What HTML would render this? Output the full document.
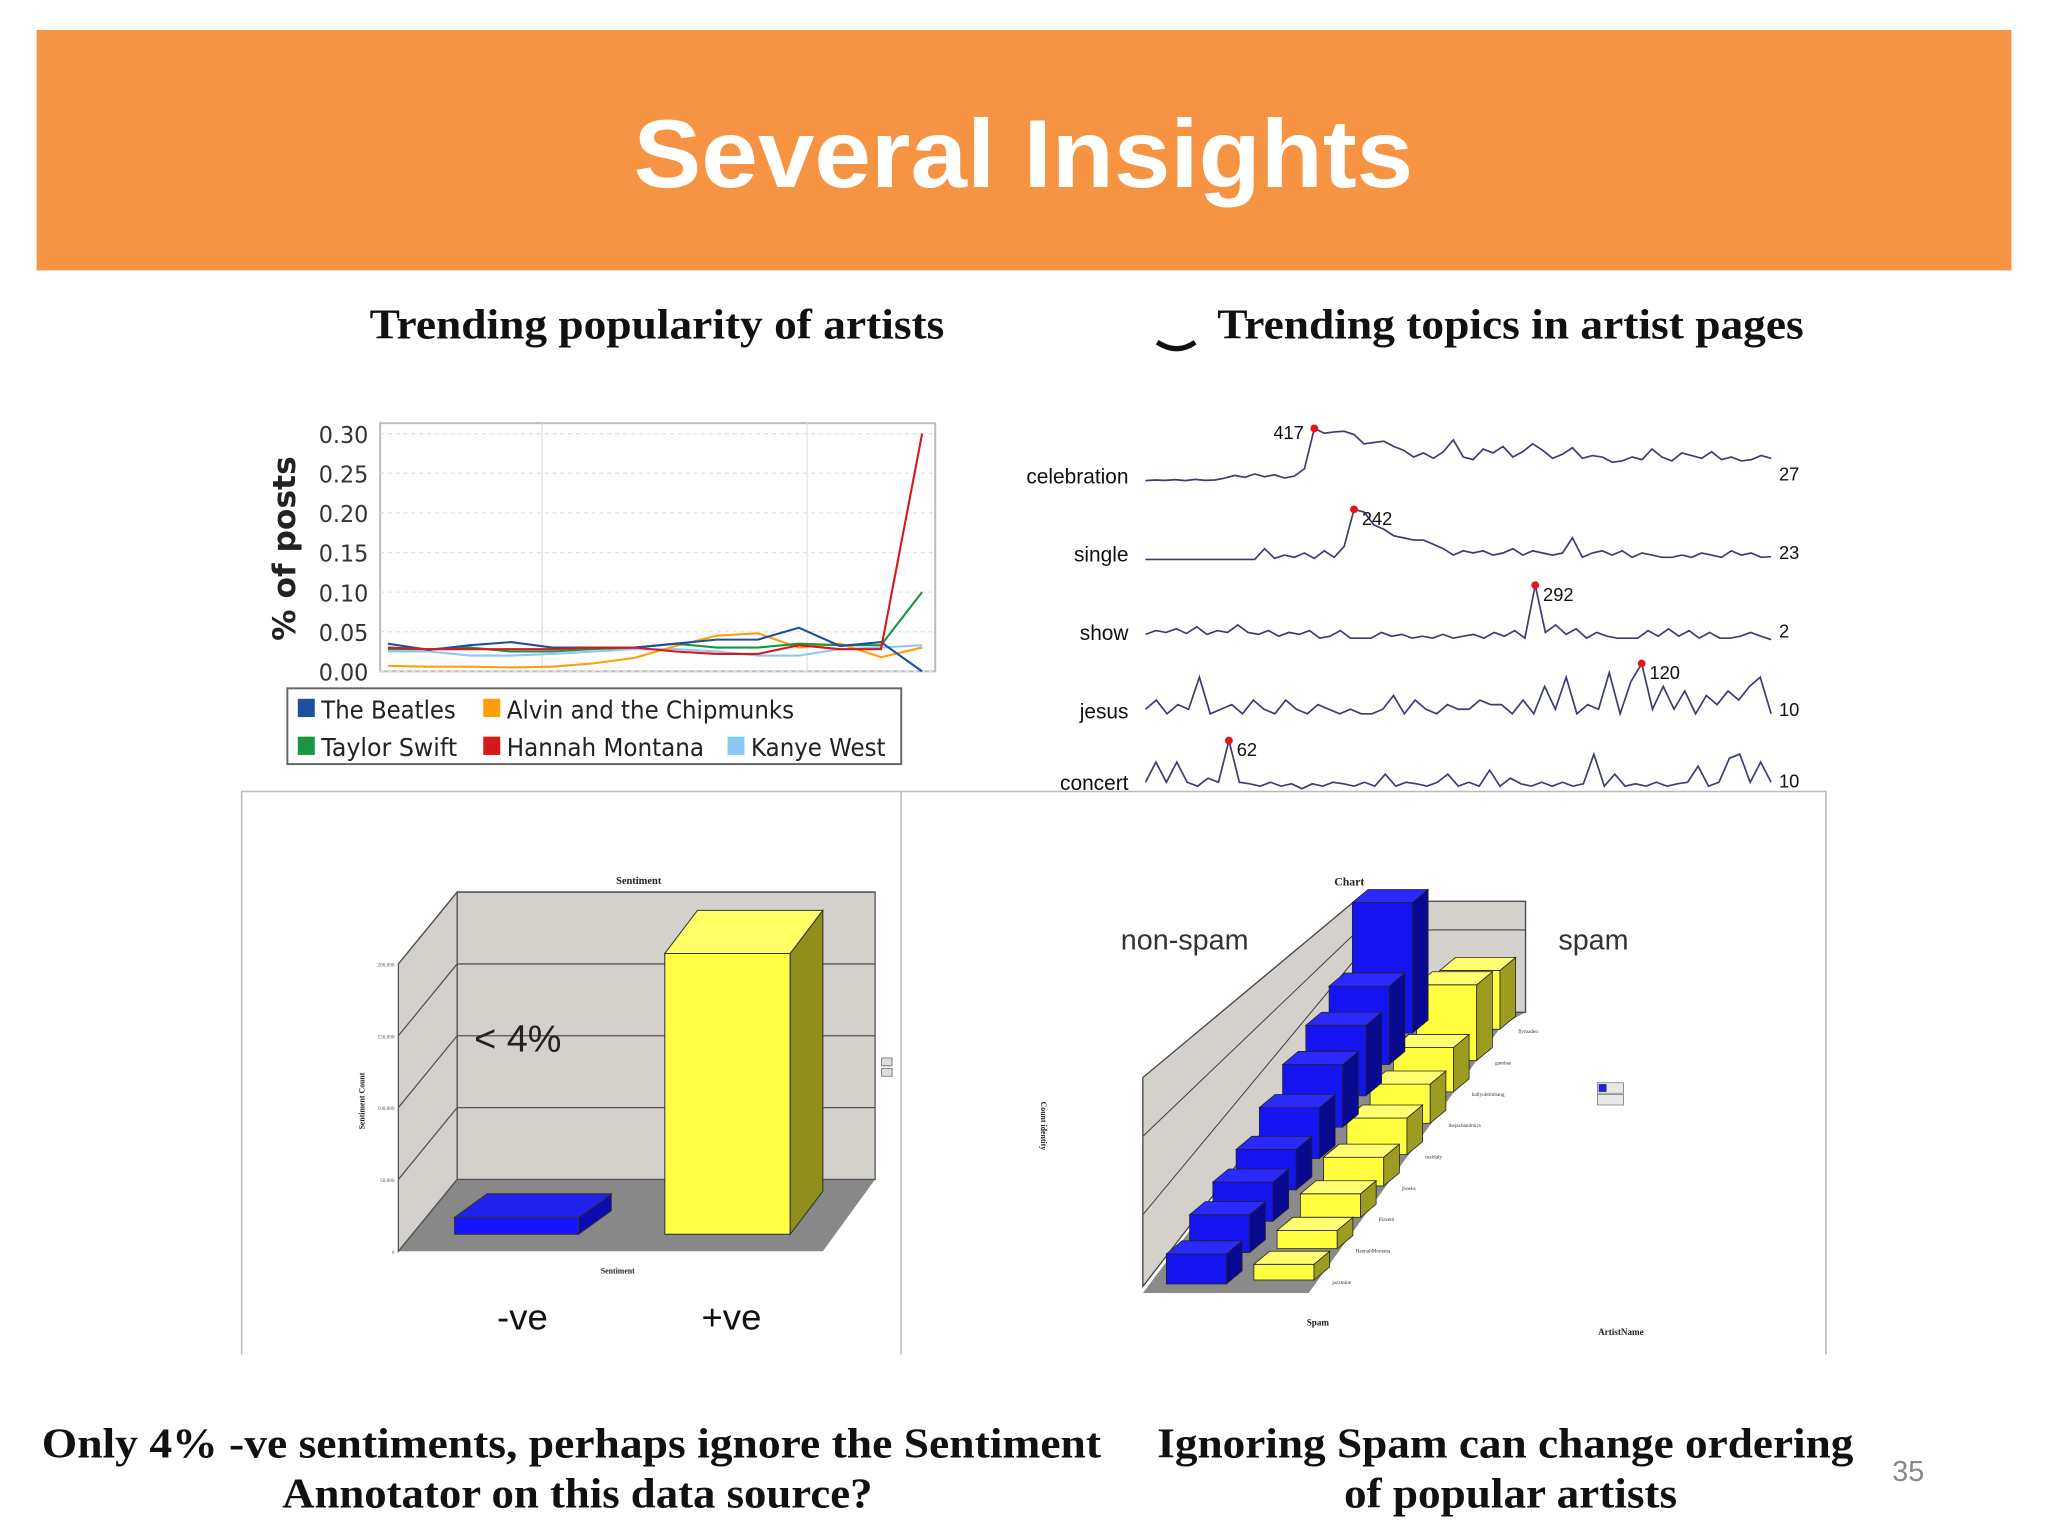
<!DOCTYPE html>
<html><head><meta charset="utf-8"><style>
html,body{margin:0;padding:0;background:#fff}
svg{display:block}
.serif{font-family:"Liberation Serif",serif;font-weight:bold}
.sans{font-family:"Liberation Sans",sans-serif}
</style></head><body>
<svg id="root" width="2048" height="1536" viewBox="0 0 1568 1176" xmlns="http://www.w3.org/2000/svg">
<rect x="0" y="0" width="1568" height="1176" fill="#fff"/>
<rect x="28" y="23" width="1512" height="184" fill="#f79444"/>
<text x="485" y="143" textLength="597" lengthAdjust="spacingAndGlyphs" class="sans" font-weight="bold" font-size="74" fill="#fff">Several Insights</text>
<text x="283" y="259" textLength="440" lengthAdjust="spacingAndGlyphs" class="serif" font-size="32" fill="#111">Trending popularity of artists</text>
<text x="932" y="259" textLength="449" lengthAdjust="spacingAndGlyphs" class="serif" font-size="32" fill="#111">Trending topics in artist pages</text>
<path d="M886 262 Q901 272 915 262" stroke="#111" stroke-width="4" fill="none"/>

<g id="linechart"></g>
<g id="spark"></g>

<g>
<path d="M185 1037 V606 H1398 V1037 M690 606 V1037" stroke="#bbb" stroke-width="1.2" fill="none"/>
</g>
<g id="senti"></g>
<g id="spam"></g>

<text x="32" y="1116" textLength="811" lengthAdjust="spacingAndGlyphs" class="serif" font-size="32" fill="#111">Only 4% -ve sentiments, perhaps ignore the Sentiment</text>
<text x="216" y="1154" textLength="452" lengthAdjust="spacingAndGlyphs" class="serif" font-size="32" fill="#111">Annotator on this data source?</text>
<text x="886" y="1116" textLength="533" lengthAdjust="spacingAndGlyphs" class="serif" font-size="32" fill="#111">Ignoring Spam can change ordering</text>
<text x="1029" y="1154" textLength="255" lengthAdjust="spacingAndGlyphs" class="serif" font-size="32" fill="#111">of popular artists</text>
<text x="1461" y="1134" text-anchor="middle" class="sans" font-size="22" fill="#888">35</text>
</svg>
<script>
var NS="http://www.w3.org/2000/svg";
// ---- line chart data ----
var lcTicks=[0,0.05,0.10,0.15,0.20,0.25,0.30];
var lcTickLabels=["0.00","0.05","0.10","0.15","0.20","0.25","0.30"];
var seriesNames=["The Beatles","Alvin and the Chipmunks","Taylor Swift","Hannah Montana","Kanye West"];
var beatles=[0.035,0.027,0.033,0.037,0.030,0.030,0.030,0.035,0.040,0.040,0.055,0.032,0.037,0.000];
var alvin=[0.007,0.006,0.006,0.005,0.006,0.010,0.017,0.032,0.045,0.048,0.030,0.035,0.018,0.030];
var taylor=[0.028,0.028,0.030,0.025,0.025,0.028,0.030,0.035,0.030,0.030,0.035,0.033,0.033,0.100];
var hannah=[0.030,0.028,0.028,0.028,0.028,0.030,0.030,0.025,0.022,0.022,0.033,0.028,0.028,0.300];
var kanye=[0.025,0.025,0.020,0.020,0.022,0.025,0.028,0.028,0.025,0.020,0.020,0.028,0.030,0.033];
// ---- sparkline data ----
var topics=["celebration","single","show","jesus","concert"];
var peaks=[417,242,292,120,62];
var lastVals=[27,23,2,10,10];
var celebration=[20,25,22,28,20,30,22,25,40,60,45,70,50,65,40,55,110,417,380,390,395,370,300,310,320,280,250,200,230,190,240,330,200,180,260,230,280,200,240,300,250,190,220,270,190,210,200,160,170,200,180,260,200,170,230,210,190,240,180,200,170,180,210,190];
var single=[10,10,10,10,10,10,10,10,10,10,10,10,60,15,30,20,40,15,50,20,70,242,230,170,150,120,110,100,100,80,60,30,50,40,50,30,40,60,30,50,40,30,40,110,20,40,50,30,50,20,40,30,20,20,30,20,40,30,20,50,30,40,20,23];
var show=[30,50,40,60,35,70,30,50,40,80,40,30,50,20,40,30,50,10,20,50,10,10,10,40,20,30,10,20,10,30,10,20,30,10,40,20,50,10,292,40,80,30,60,10,40,20,10,10,10,50,20,60,20,50,10,40,10,10,20,40,20,2];
var jesus=[20,40,10,30,20,90,10,20,30,10,40,20,10,40,20,10,30,20,10,20,10,10,20,50,10,40,20,10,30,20,20,40,30,30,10,40,10,70,20,90,10,30,20,100,10,80,120,20,70,20,60,10,50,30,60,40,70,90,10];
var concert=[10,35,10,35,10,5,15,10,62,10,8,5,10,5,8,2,8,5,10,8,5,10,5,20,5,10,8,5,10,20,5,10,5,25,5,15,8,5,10,5,10,5,8,45,5,20,5,8,5,10,5,8,10,30,5,10,40,45,10,35,10];
var topicSeries=[celebration,single,show,jesus,concert];
// ---- sentiment data ----
var sentCats=["-ve","+ve"];
var sentVals=[6500,172000];
var sentTicks=[0,50000,100000,150000,200000];
// ---- spam data ----
var spamArtists=["jazzmine","HannahMontana","Pizzetti","jboebs","realdaly","thejazbandmics","hallyubtimbang","gambas","flymadeo"];
var nonSpamVals=[23,29,30,31,39,48,54,60,100];
var spamVals=[12,14,18,22,28,30,34,58,45];

function el(tag,attrs,parent){var e=document.createElementNS(NS,tag);for(var k in attrs)e.setAttribute(k,attrs[k]);parent.appendChild(e);return e;}

// ===== line chart =====
(function(){
var g=document.getElementById('linechart');
var X0=291,X1=716,Y0=514,Y1=324;
function y(v){return 514-v/0.30*182;}
function x(i){return 297+i*(706-297)/(beatles.length-1);}
var bg=el('rect',{x:X0,y:Y1,width:X1-X0,height:Y0-Y1,fill:'#fff',stroke:'#bbb','stroke-width':1.5},g);


[415,618].forEach(function(vx){var l=el('line',{x1:vx,x2:vx,y1:Y1,y2:Y0,stroke:'#e4e4e4','stroke-width':1},g);

});
lcTicks.forEach(function(t,i){
 var gl=el('line',{x1:X0,x2:X1,y1:y(t),y2:y(t),stroke:'#e0e0e0','stroke-dasharray':'3,3'},g);
 
 
 var tx=el('text',{x:282,y:y(t)+7,'text-anchor':'end','font-size':18,fill:'#333','font-family':'DejaVu Sans,sans-serif',textLength:38,lengthAdjust:'spacingAndGlyphs'},g);
 tx.textContent=lcTickLabels[i];
 
 
});
var yl=el('text',{x:0,y:0,transform:'translate(226,420) rotate(-90)','text-anchor':'middle','font-size':24,'font-weight':'bold',fill:'#222','font-family':'DejaVu Sans,sans-serif'},g);
yl.textContent='% of posts';


var data=[kanye,alvin,taylor,beatles,hannah];
var cols=['#8cc8f5','#ff9d0a','#1a9641','#1f4fa0','#d7191c'];
var names=['series-kanye-west','series-alvin','series-taylor-swift','series-the-beatles','series-hannah-montana'];
data.forEach(function(d,si){
 var p=d.map(function(v,i){return (i?'L':'M')+x(i).toFixed(1)+' '+y(v).toFixed(1);}).join(' ');
 var pa=el('path',{d:p,fill:'none',stroke:cols[si],'stroke-width':1.6},g);
 
 
});
var lg=el('rect',{x:220,y:527,width:470,height:58,fill:'#fff',stroke:'#666','stroke-width':1.5},g);


var lcols=['#1f4fa0','#ff9d0a','#1a9641','#d7191c','#8cc8f5'];
var lpos=[[228,550],[370,550],[228,579],[370,579],[557,579]];
var lw=[103,220,104,151,103];
seriesNames.forEach(function(n,i){
 var s=el('rect',{x:lpos[i][0],y:lpos[i][1]-15,width:13,height:14,fill:lcols[i]},g);
 
 
 var t=el('text',{x:lpos[i][0]+18,y:lpos[i][1],'font-size':19,fill:'#222','font-family':'DejaVu Sans,sans-serif',textLength:lw[i],lengthAdjust:'spacingAndGlyphs'},g);
 t.textContent=n;
 
 
});
})();

// ===== sparklines =====
(function(){
var g=document.getElementById('spark');
var base=[370,430,490,550,605];
var H=[42,40,42,42,38];
topicSeries.forEach(function(d,r){
 var mx=Math.max.apply(null,d);
 var X0=877,X1=1356;
 function x(i){return X0+i*(X1-X0)/(d.length-1);}
 function y(v){return base[r]-v/mx*H[r];}
 var lb=el('text',{x:864,y:base[r],'text-anchor':'end','font-size':16,fill:'#111','font-family':'Liberation Sans,sans-serif'},g);
 lb.textContent=topics[r];
 
 
 var p=d.map(function(v,i){return (i?'L':'M')+x(i).toFixed(1)+' '+y(v).toFixed(1);}).join(' ');
 var pa=el('path',{d:p,fill:'none',stroke:'#3b3f70','stroke-width':1.3},g);
 
 
 var pi=d.indexOf(mx);
 var dot=el('circle',{cx:x(pi),cy:y(mx),r:3,fill:'#e8141c'},g);
 
 
 var pt=el('text',{x:x(pi)+(r===0?-8:6),y:y(mx)+(r===0?8:12),'text-anchor':r===0?'end':'start','font-size':14,fill:'#111','font-family':'Liberation Sans,sans-serif'},g);
 pt.textContent=peaks[r];
 
 
 var lt=el('text',{x:1362,y:base[r]-2,'font-size':14,fill:'#111','font-family':'Liberation Sans,sans-serif'},g);
 lt.textContent=lastVals[r];
 
 
});
var cover=el('rect',{x:770,y:607,width:640,height:20,fill:'#fff'},g);


})();

// ===== sentiment 3D =====
(function(){
var g=document.getElementById('senti');
var fl=el('path',{d:'M305 958 L630 958 L670 903 L350 903 Z',fill:'#888'},g);


var bw=el('path',{d:'M350 683 H670 V903 H350 Z',fill:'#d4d0cc',stroke:'#555'},g);


var lw=el('path',{d:'M305 738 L350 683 L350 903 L305 958 Z',fill:'#d4d0cc',stroke:'#555'},g);


function yv(v){return 958-v/200000*220;}
sentTicks.forEach(function(t){
 var yy=yv(t);
 var l=el('path',{d:'M305 '+yy+' L350 '+(yy-55)+(t>0?' H670':''),fill:'none',stroke:'#555','stroke-width':1},g);
 
 
 var tx=el('text',{x:302,y:yy+2,'text-anchor':'end','font-size':4,fill:'#555'},g);
 tx.textContent=t.toLocaleString();
 
 
});
var bx=[348,509],bw2=[95,96],cols=[['#1515ff','#0b0bb0','#2222ee'],['#ffff44','#8f8f1a','#ffff66']];
var tdx=[25,25],tdy=[-18,-33];
sentVals.forEach(function(v,i){
 var x0=bx[i],x1=bx[i]+bw2[i],yb=945,yt=Math.min(yb-13,yb-v/200000*250);
 var ox=tdx[i],oy=tdy[i];
 var f=el('rect',{x:x0,y:yt,width:x1-x0,height:yb-yt,fill:cols[i][0],stroke:'#333','stroke-width':0.8},g);
 
 
 var s=el('path',{d:'M'+x1+' '+yt+' L'+(x1+ox)+' '+(yt+oy)+' L'+(x1+ox)+' '+(yb+oy)+' L'+x1+' '+yb+' Z',fill:cols[i][1],stroke:'#333','stroke-width':0.8},g);
 
 
 var t=el('path',{d:'M'+x0+' '+yt+' L'+(x0+ox)+' '+(yt+oy)+' L'+(x1+ox)+' '+(yt+oy)+' L'+x1+' '+yt+' Z',fill:cols[i][2],stroke:'#333','stroke-width':0.8},g);
 
 
 var lab=el('text',{x:[400,560][i],y:1018,'text-anchor':'middle','font-size':28,fill:'#111','font-family':'Liberation Sans,sans-serif'},g);
 lab.textContent=sentCats[i];
 
 
});
var tt=el('text',{x:489,y:677,'text-anchor':'middle','font-size':8,'font-weight':'bold',fill:'#222'},g);
tt.textContent='Sentiment';


var xt=el('text',{x:473,y:975,'text-anchor':'middle','font-size':6,'font-weight':'bold',fill:'#222'},g);
xt.textContent='Sentiment';


var ytt=el('text',{x:0,y:0,transform:'translate(279,843) rotate(-90)','text-anchor':'middle','font-size':6,'font-weight':'bold',fill:'#222'},g);
ytt.textContent='Sentiment Count';


var a=el('text',{x:363,y:805,'font-size':29,fill:'#222','font-family':'Liberation Sans,sans-serif'},g);
a.textContent='< 4%';


var lg=el('path',{d:'M675 810 h8 v6 h-8 z M675 818 h8 v6 h-8 z',fill:'#ddd',stroke:'#666','stroke-width':0.6},g);


})();

// ===== spam 3D =====
(function(){
var g=document.getElementById('spam');
var fl=el('path',{d:'M875 990 L1002 990 L1150 785 L1168 775 L1037 775 Z',fill:'#8a8a8a'},g);


var bw=el('path',{d:'M1037 690 H1168 V775 H1037 Z',fill:'#d4d0cc',stroke:'#444'},g);


var lw=el('path',{d:'M875 985 L875 825 L1037 690 L1037 775 Z',fill:'#d4d0cc',stroke:'#444'},g);


[[875,870,1037,715],[875,930,1037,735]].forEach(function(c){var l=el('line',{x1:c[0],y1:c[1],x2:c[2],y2:c[3],stroke:'#444','stroke-width':0.8},g);

});
var gl=el('line',{x1:1037,y1:712,x2:1168,y2:712,stroke:'#444','stroke-width':0.8},g);


var stepx=17.8,stepy=-24,bwid=46,ox=12,oy=-10;
function drawBar(x0,yb,h,c,nm){
 var yt=yb-h;
 var f=el('rect',{x:x0,y:yt,width:bwid,height:h,fill:c[0],stroke:'#222','stroke-width':0.6},g);
 
 
 var s=el('path',{d:'M'+(x0+bwid)+' '+yt+' l'+ox+' '+oy+' v'+h+' l'+(-ox)+' '+(-oy)+' Z',fill:c[1],stroke:'#222','stroke-width':0.6},g);
 
 
 var t=el('path',{d:'M'+x0+' '+yt+' l'+ox+' '+oy+' h'+bwid+' l'+(-ox)+' '+(-oy)+' Z',fill:c[2],stroke:'#222','stroke-width':0.6},g);
 
 
}
function hv(v){return v*1.0;}
for(var i=spamArtists.length-1;i>=0;i--){
 drawBar(960+i*stepx,980+i*stepy,hv(spamVals[i]),['#ffff40','#9c9c20','#ffff70'],'bar-spam-'+spamArtists[i]);
 var lt=el('text',{x:1020+i*stepx,y:983+i*stepy,'font-size':4,fill:'#333'},g);
 lt.textContent=spamArtists[i];
 
 
}
for(var j=nonSpamVals.length-1;j>=0;j--){
 drawBar(893+j*stepx,983+j*stepy,hv(nonSpamVals[j]),['#1414f0','#0a0a90','#2a2aff'],'bar-nonspam-'+spamArtists[j]);
}
var tt=el('text',{x:1033,y:678,'text-anchor':'middle','font-size':9,'font-weight':'bold',fill:'#222'},g);
tt.textContent='Chart';


var ns=el('text',{x:907,y:727,'text-anchor':'middle','font-size':22,fill:'#333','font-family':'Liberation Sans,sans-serif'},g);
ns.textContent='non-spam';


var sp=el('text',{x:1220,y:727,'text-anchor':'middle','font-size':22,fill:'#333','font-family':'Liberation Sans,sans-serif'},g);
sp.textContent='spam';


var xa=el('text',{x:1009,y:1015,'text-anchor':'middle','font-size':7,'font-weight':'bold',fill:'#222'},g);
xa.textContent='Spam';


var za=el('text',{x:1241,y:1022,'text-anchor':'middle','font-size':7,'font-weight':'bold',fill:'#222'},g);
za.textContent='ArtistName';


var ya=el('text',{x:0,y:0,transform:'translate(797,862) rotate(90)','text-anchor':'middle','font-size':6,'font-weight':'bold',fill:'#222'},g);
ya.textContent='Count identity';


var lg=el('path',{d:'M1223 829 h20 v8 h-20 z M1223 838 h20 v8 h-20 z',fill:'#e8e8e8',stroke:'#777','stroke-width':0.6},g);


var ls=el('rect',{x:1224,y:830,width:6,height:6,fill:'#2222cc'},g);


})();
</script>
</body></html>
